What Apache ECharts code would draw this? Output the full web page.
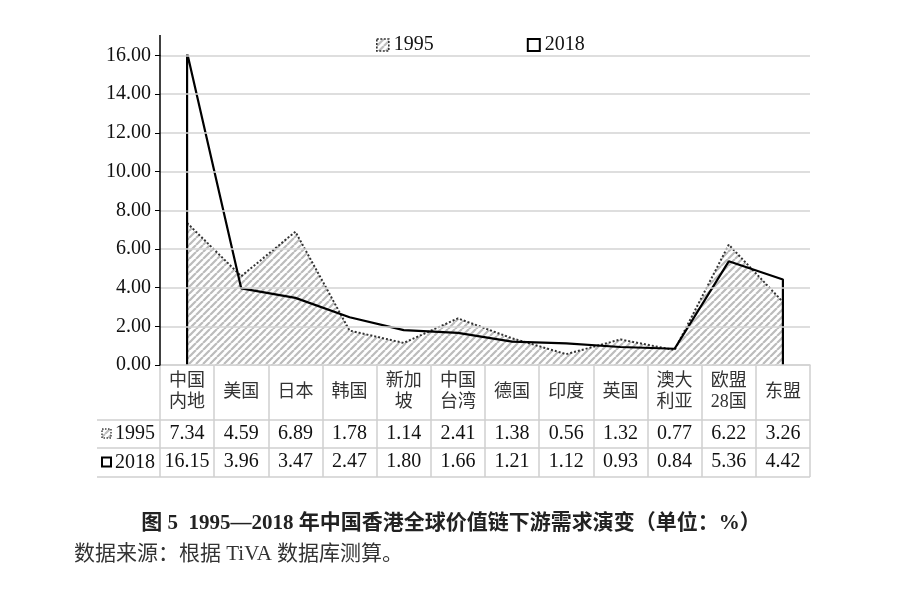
<!DOCTYPE html>
<html><head><meta charset="utf-8">
<script src="https://cdn.jsdelivr.net/npm/echarts@6/dist/echarts.min.js"></script>
<style>html,body{margin:0;padding:0;background:#fff}#c{width:902px;height:594px}</style>
</head><body><div id="c"></div>
<script>
const categories = ['中国\n内地','美国','日本','韩国','新加\n坡','中国\n台湾','德国','印度','英国','澳大\n利亚','欧盟\n28国','东盟'];
const values1995 = [7.34, 4.59, 6.89, 1.78, 1.14, 2.41, 1.38, 0.56, 1.32, 0.77, 6.22, 3.26];
const values2018 = [16.15, 3.96, 3.47, 2.47, 1.80, 1.66, 1.21, 1.12, 0.93, 0.84, 5.36, 4.42];
const seriesNames = ['1995', '2018'];
const caption = '图 5  1995—2018 年中国香港全球价值链下游需求演变（单位：%）';
const source = '数据来源：根据 TiVA 数据库测算。';

const SERIF = "'Liberation Serif','Noto Sans CJK SC',serif";
const CJK = "'Liberation Serif','Noto Sans CJK SC',sans-serif";

function hatchCanvas(){
  const s = 7;
  const c = document.createElement('canvas');
  c.width = s; c.height = s;
  const ctx = c.getContext('2d');
  ctx.fillStyle = '#fff'; ctx.fillRect(0,0,s,s);
  ctx.strokeStyle = '#bcbcbc'; ctx.lineWidth = 2.2;
  ctx.beginPath();
  for (const o of [-s, 0, s]) { ctx.moveTo(o, s); ctx.lineTo(o + s, 0); }
  ctx.stroke();
  return c;
}
const hatch = {image: hatchCanvas(), repeat: 'repeat'};

// 2018 outline: drops to the baseline at both ends
const data2018 = [[0, 0]].concat(values2018.map((v, i) => [i, v]), [[values2018.length - 1, 0]]);

const gridLeft = 160, gridRight = 810, gridTop = 55.5, gridBottom = 365;
const rowY = [420, 448, 477];
const tableLeft = 97;

const chart = echarts.init(document.getElementById('c'), null, {renderer: 'canvas'});
const option = {
  animation: false,
  backgroundColor: '#fff',
  title: {
    text: caption, left: 'center', top: 508,
    textStyle: {fontFamily: CJK, fontSize: 21, fontWeight: 'bold', color: '#222'}
  },
  legend: {
    left: 371, top: 30, itemGap: 93, itemWidth: 12, itemHeight: 12,
    textStyle: {fontFamily: SERIF, fontSize: 20, color: '#111'},
    data: [
      {name: seriesNames[0], icon: 'rect', itemStyle: {color: hatch, borderColor: '#333', borderWidth: 1.6, borderType: [2, 1.5]}},
      {name: seriesNames[1], icon: 'rect', itemStyle: {color: '#fff', borderColor: '#000', borderWidth: 2}}
    ]
  },
  grid: {left: gridLeft, right: 902 - gridRight, top: gridTop, bottom: 594 - gridBottom, containLabel: false},
  xAxis: [
    {
      type: 'category', data: categories, boundaryGap: true,
      axisLine: {show: true, lineStyle: {color: '#cfcfcf', width: 1.5}},
      axisTick: {show: true, interval: 0, length: 112, lineStyle: {color: '#cfcfcf', width: 1.5}},
      axisLabel: {interval: 0, margin: 27, verticalAlign: 'middle', lineHeight: 21,
        fontFamily: CJK, fontSize: 18, color: '#333'},
      z: 1
    },
    {
      type: 'category', data: values1995.map(v => v.toFixed(2)), boundaryGap: true, position: 'bottom',
      axisLine: {show: false}, axisTick: {show: false},
      axisLabel: {interval: 0, margin: 69, verticalAlign: 'middle', fontFamily: SERIF, fontSize: 20, color: '#111'}
    },
    {
      type: 'category', data: values2018.map(v => v.toFixed(2)), boundaryGap: true, position: 'bottom',
      axisLine: {show: false}, axisTick: {show: false},
      axisLabel: {interval: 0, margin: 97, verticalAlign: 'middle', fontFamily: SERIF, fontSize: 20, color: '#111'}
    }
  ],
  yAxis: {
    type: 'value', min: 0, max: 16, interval: 2,
    axisLine: {show: true, lineStyle: {color: '#000', width: 1.5}},
    axisTick: {show: true, length: 5, lineStyle: {color: '#000', width: 1}},
    axisLabel: {margin: 9, formatter: v => v.toFixed(2), fontFamily: SERIF, fontSize: 20, color: '#111'},
    splitLine: {show: true, lineStyle: {color: '#d3d3d3', width: 1.5}},
    z: 5
  },
  series: [
    {
      name: seriesNames[0], type: 'line', data: values1995, symbol: 'none', z: 2,
      lineStyle: {color: '#333', width: 2, type: [2, 2]},
      itemStyle: {color: hatch, borderColor: '#333'},
      areaStyle: {color: hatch, opacity: 1}
    },
    {
      name: seriesNames[1], type: 'line', data: data2018, symbol: 'none', z: 3,
      lineStyle: {color: '#000', width: 2.2},
      itemStyle: {color: '#fff', borderColor: '#000'}
    }
  ],
  graphic: []
};
chart.setOption(option);

// table lines, row headers, axis extension, source note
const g = [];
rowY.forEach(y => g.push({type: 'line', shape: {x1: tableLeft, y1: y, x2: gridRight, y2: y},
  style: {stroke: '#cfcfcf', lineWidth: 1.5}, z: 1}));
g.push({type: 'line', shape: {x1: gridLeft, y1: 35, x2: gridLeft, y2: gridTop}, style: {stroke: '#000', lineWidth: 1.5}, z: 10});
// row header keys
const hy = [(rowY[0] + rowY[1]) / 2, (rowY[1] + rowY[2]) / 2];
g.push({type: 'rect', shape: {x: 102, y: hy[0] - 5, width: 9, height: 9},
  style: {fill: hatch, stroke: '#444', lineWidth: 1.5, lineDash: [1.5, 1.5]}, z: 10});
g.push({type: 'rect', shape: {x: 102, y: hy[1] - 5, width: 9, height: 9},
  style: {fill: '#fff', stroke: '#000', lineWidth: 2}, z: 10});
seriesNames.forEach((n, i) => g.push({type: 'text', x: 155, y: hy[i],
  style: {text: n, fontFamily: SERIF, fontSize: 20, fill: '#111', align: 'right', verticalAlign: 'middle'}, z: 10}));
g.push({type: 'text', x: 74, y: 554, style: {text: source, fontFamily: CJK, fontSize: 21, fill: '#333',
  align: 'left', verticalAlign: 'middle'}, z: 10});
chart.setOption({graphic: g});
</script></body></html>
